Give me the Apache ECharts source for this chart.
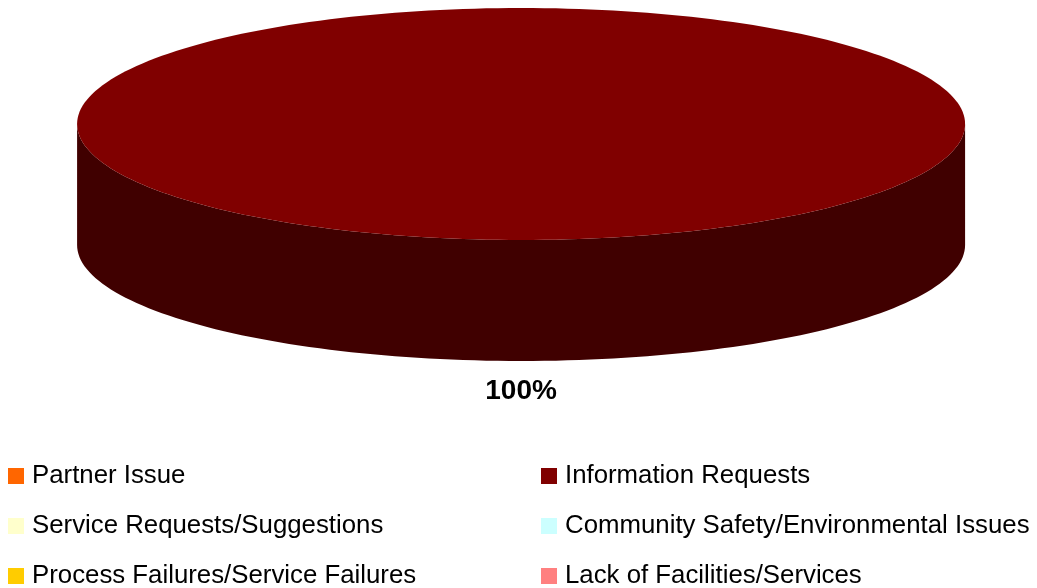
<!DOCTYPE html>
<html>
<head>
<meta charset="utf-8">
<script src="https://cdn.jsdelivr.net/npm/echarts@6/dist/echarts.min.js"></script>
<style>
html,body{margin:0;padding:0;background:#fff;}
#chart{width:1037px;height:588px;}
</style>
</head>
<body>
<div id="chart"></div>
<script>
// ---- data ----
const categories = [
  'Partner Issue',
  'Information Requests',
  'Service Requests/Suggestions',
  'Community Safety/Environmental Issues',
  'Process Failures/Service Failures',
  'Lack of Facilities/Services'
];
const values = [0, 100, 0, 0, 0, 0];
const colors = ['#FF6600', '#800000', '#FFFFCC', '#CCFFFF', '#FFCC00', '#FF8080'];
const legendLeftCol = [categories[0], categories[2], categories[4]];
const legendRightCol = [categories[1], categories[3], categories[5]];

const FONT = 'Liberation Sans, Arial, sans-serif';
const total = values.reduce((a, b) => a + b, 0);

function shade(hex, f) {
  const n = parseInt(hex.slice(1), 16);
  const r = Math.round(((n >> 16) & 255) * f);
  const g = Math.round(((n >> 8) & 255) * f);
  const b = Math.round((n & 255) * f);
  return 'rgb(' + r + ',' + g + ',' + b + ')';
}

function makeRender(idx) {
  return function (params, api) {
    const v = values[idx];
    if (!v || !total) return null;
    const W = api.getWidth();
    const cx = W * 0.5025, cy = 124, rx = 444, ry = 116, depth = 121;
    let before = 0;
    for (let i = 0; i < idx; i++) before += values[i];
    const a0 = before / total * Math.PI * 2;
    const a1 = (before + v) / total * Math.PI * 2;
    const pt = (t, dy) => [cx + rx * Math.sin(t), cy - ry * Math.cos(t) + (dy || 0)];
    const children = [];
    // side wall: front half is t in [PI/2, 3PI/2]
    const s0 = Math.max(a0, Math.PI / 2), s1 = Math.min(a1, Math.PI * 1.5);
    if (s1 > s0) {
      const top = [], bot = [];
      const N = 120;
      for (let k = 0; k <= N; k++) {
        const t = s0 + (s1 - s0) * k / N;
        top.push(pt(t));
        bot.push(pt(t, depth));
      }
      children.push({
        type: 'polygon', z2: 1,
        shape: { points: top.concat(bot.reverse()) },
        style: { fill: shade(colors[idx], 0.5), stroke: null }
      });
    }
    // top face
    const pts = [];
    const full = (a1 - a0) >= Math.PI * 2 - 1e-9;
    if (!full) pts.push([cx, cy]);
    const N2 = 240;
    for (let k = 0; k <= N2; k++) pts.push(pt(a0 + (a1 - a0) * k / N2));
    children.push({
      type: 'polygon', z2: 2,
      shape: { points: pts },
      style: { fill: colors[idx], stroke: null }
    });
    // label
    const mid = (a0 + a1) / 2;
    const lx = cx + (rx + 30) * Math.sin(mid);
    const ly = cy - (ry + 30) * Math.cos(mid) + (Math.cos(mid) < 0 ? depth : 0);
    children.push({
      type: 'text', z2: 3,
      style: {
        text: Math.round(v / total * 100) + '%',
        x: lx, y: ly,
        fill: '#000', font: 'bold 28px ' + FONT,
        align: 'center', verticalAlign: 'middle'
      }
    });
    return { type: 'group', children: children };
  };
}

const chart = echarts.init(document.getElementById('chart'), null, { renderer: 'canvas' });
const legendCommon = {
  orient: 'vertical',
  icon: 'rect',
  itemWidth: 16,
  itemHeight: 16,
  itemGap: 24,
  height: 300,
  selectedMode: false,
  textStyle: { fontSize: 25.8, fontFamily: FONT, color: '#000', lineHeight: 24, padding: [0, 0, 0, 3] }
};
chart.setOption({
  animation: false,
  backgroundColor: '#ffffff',
  legend: [
    Object.assign({}, legendCommon, { left: 3, top: 458, data: legendLeftCol }),
    Object.assign({}, legendCommon, { left: 536, top: 458, data: legendRightCol })
  ],
  series: categories.map((name, i) => ({
    type: 'custom',
    name: name,
    coordinateSystem: 'none',
    itemStyle: { color: colors[i] },
    renderItem: makeRender(i),
    data: [[values[i]]]
  }))
});
</script>
</body>
</html>
